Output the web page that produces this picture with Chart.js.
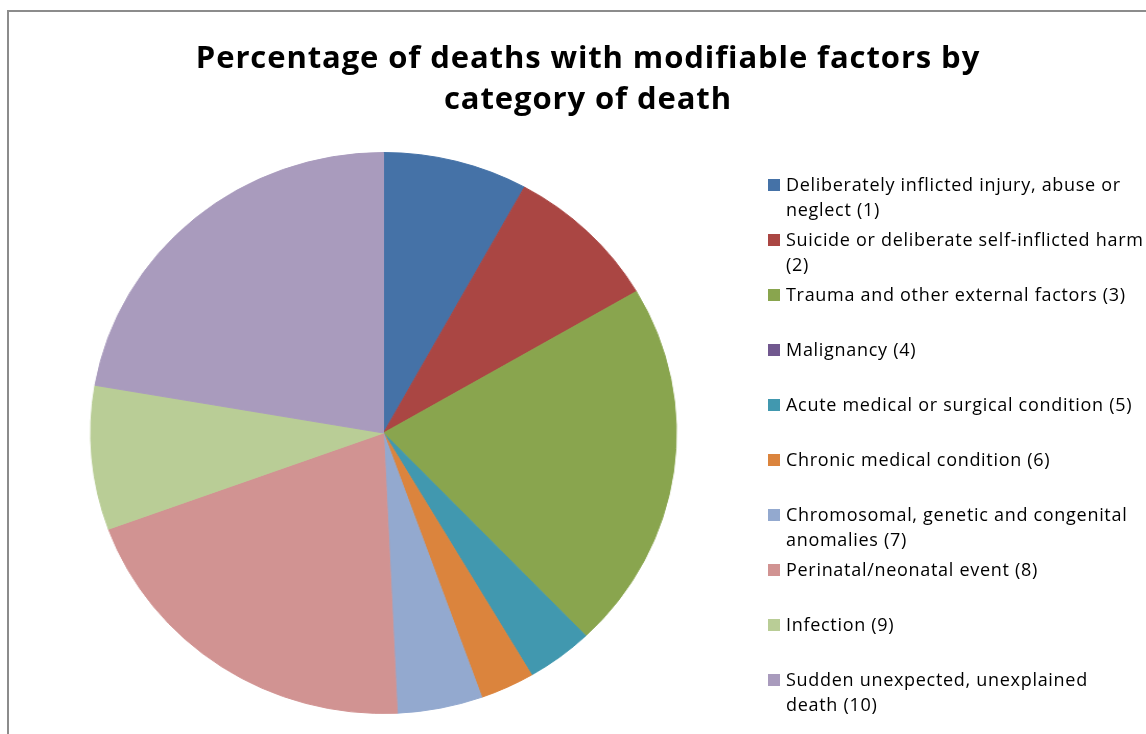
<!DOCTYPE html>
<html>
<head>
<meta charset="utf-8">
<script src="https://cdn.jsdelivr.net/npm/chart.js@4.4.1/dist/chart.umd.min.js"></script>
<style>
  body { margin: 0; background: #fff; }
  #wrap { position: relative; width: 1146px; height: 734px; overflow: hidden; }
  #frame { position: absolute; left: 7px; top: 10px; width: 1200px; height: 800px;
           border-left: 2px solid #8c8c8c; border-top: 2px solid #8c8c8c; }
  /* the original pie is slightly wider than tall */
  #chart { position: absolute; left: 0; top: 0; transform: scaleX(1.044); transform-origin: 383.5px 0; }
  #title { position: absolute; left: 188px; width: 800px; top: 36px; text-align: center;
           font-family: "Open Sans", sans-serif; font-weight: bold; font-size: 31px; line-height: 41px;
           letter-spacing: 0.9px; color: #000; }
  #legend { position: absolute; left: 768px; top: 172px; font-family: "Open Sans", sans-serif;
            font-size: 18px; line-height: 25px; color: #000; letter-spacing: 0.7px; }
  .item { position: relative; height: 55px; padding-left: 18px; white-space: nowrap; }
  .box { position: absolute; left: 0; top: 7px; width: 12px; height: 12px; }
</style>
</head>
<body>
<div id="wrap">
  <div id="frame"></div>
  <canvas id="chart" width="1146" height="734"></canvas>
  <div id="title">Percentage of deaths with modifiable factors by<br>category of death</div>
  <div id="legend"></div>
</div>
<script>
// categorias (rótulos em linhas, como no original)
const categories = [
  ['Deliberately inflicted injury, abuse or', 'neglect (1)'],
  ['Suicide or deliberate self-inflicted harm', '(2)'],
  ['Trauma and other external factors (3)'],
  ['Malignancy (4)'],
  ['Acute medical or surgical condition (5)'],
  ['Chronic medical condition (6)'],
  ['Chromosomal, genetic and congenital', 'anomalies (7)'],
  ['Perinatal/neonatal event (8)'],
  ['Infection (9)'],
  ['Sudden unexpected, unexplained', 'death (10)']
];
// percentual de óbitos com fatores modificáveis
const percentages = [8.0, 8.6, 21.3, 0, 3.7, 3.0, 4.7, 20.2, 8.3, 22.3];
const colors = ['#4572A7', '#AA4643', '#89A54E', '#71588F', '#4198AF',
                '#DB843D', '#93A9CF', '#D19392', '#B9CD96', '#A99BBD'];

const chart = new Chart(document.getElementById('chart'), {
  type: 'pie',
  data: {
    labels: categories,
    datasets: [{
      data: percentages,
      backgroundColor: colors,
      borderColor: colors,
      borderWidth: 1
    }]
  },
  options: {
    responsive: false,
    devicePixelRatio: 1,
    animation: false,
    layout: { padding: { left: 102.5, right: 481.5, top: 152, bottom: 20 } },
    plugins: {
      legend: { display: false },
      title: { display: false },
      tooltip: { enabled: false }
    }
  }
});

// legenda em HTML (texto com quebra de linha)
const legend = document.getElementById('legend');
chart.data.labels.forEach((lines, i) => {
  const item = document.createElement('div');
  item.className = 'item';
  const box = document.createElement('span');
  box.className = 'box';
  box.style.background = colors[i];
  item.appendChild(box);
  item.appendChild(document.createTextNode(lines[0]));
  for (let k = 1; k < lines.length; k++) {
    item.appendChild(document.createElement('br'));
    item.appendChild(document.createTextNode(lines[k]));
  }
  legend.appendChild(item);
});
</script>
</body>
</html>
